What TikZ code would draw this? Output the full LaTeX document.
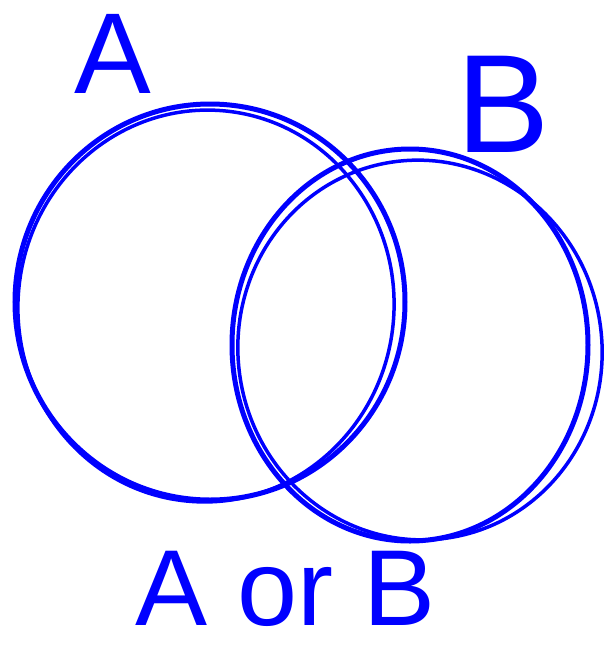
\documentclass[tikz,border=0pt]{standalone}
\usepackage{fontspec}
\setmainfont{Liberation Sans}
\definecolor{pen}{RGB}{0,0,255}
\begin{document}
\begin{tikzpicture}[x=1pt,y=-1pt,
  stroke/.style={draw=pen,line width=5pt,line cap=round},
  thin stroke/.style={draw=pen,line width=3.5pt,line cap=round},
  label/.style={text=pen,inner sep=0pt,anchor=base}]
\useasboundingbox (0,0) rectangle (605,649);
% circle A
\draw[stroke] (210,302) ellipse [x radius=195, y radius=198];
\draw[thin stroke,rotate around={-6:(206,306)}] (206,306) ellipse [x radius=188, y radius=196];
% circle B
\draw[stroke] (410,345) ellipse [x radius=178, y radius=196];
\draw[thin stroke,rotate around={8:(420,350)}] (420,350) ellipse [x radius=182, y radius=190];
% labels
\node[label,font=\fontsize{115}{115}\selectfont] (la) at (113,93) {A};
\node[label,font=\fontsize{140}{140}\selectfont] (lb) at (503,152) {B};
\node[label,font=\fontsize{108}{108}\selectfont] (lab) at (286,625) {A or B};
\end{tikzpicture}
\end{document}
